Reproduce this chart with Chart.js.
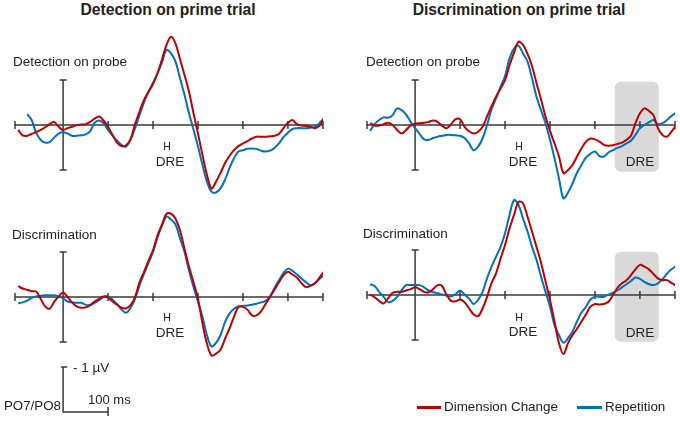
<!DOCTYPE html>
<html>
<head>
<meta charset="utf-8">
<script src="https://cdn.jsdelivr.net/npm/chart.js@4.4.1/dist/chart.umd.min.js"></script>
<style>
  body { margin: 0; background: #fff; }
  #wrap { position: relative; width: 680px; height: 421px; overflow: hidden; background: #fff;
          font-family: Arial, "Liberation Sans", sans-serif; color: #222; }
  #wrap canvas { position: absolute; }
  .t { position: absolute; white-space: nowrap; line-height: 1; }
  .c { transform: translate(-50%, -50%); }
  .l { transform: translateY(-50%); }
  .h { font-size: 10.5px; }
  .key { position: absolute; height: 3px; }
</style>
</head>
<body>
<div id="wrap">
  <canvas id="tl" width="314" height="185" style="left:12px;top:20px"></canvas>
  <canvas id="tr" width="314" height="185" style="left:364px;top:20px"></canvas>
  <canvas id="bl" width="314" height="230" style="left:12px;top:190px"></canvas>
  <canvas id="br" width="314" height="190" style="left:364px;top:190px"></canvas>

  <div class="t c" style="left:168px;top:10px;font-weight:bold;font-size:15.7px">Detection on prime trial</div>
  <div class="t c" style="left:519px;top:10px;font-weight:bold;font-size:15.7px">Discrimination on prime trial</div>

  <div class="t l" style="left:13px;top:62px;font-size:13.5px">Detection on probe</div>
  <div class="t l" style="left:366px;top:62px;font-size:13.5px">Detection on probe</div>
  <div class="t l" style="left:12px;top:235px;font-size:13.5px">Discrimination</div>
  <div class="t l" style="left:363px;top:234px;font-size:13.5px">Discrimination</div>

  <div class="t c h" style="left:167px;top:146px">H</div>
  <div class="t c" style="left:170px;top:162px;font-size:13.5px">DRE</div>
  <div class="t c h" style="left:519px;top:146px">H</div>
  <div class="t c" style="left:523px;top:162px;font-size:13.5px">DRE</div>
  <div class="t c" style="left:640px;top:162px;font-size:13.5px">DRE</div>
  <div class="t c h" style="left:167px;top:317px">H</div>
  <div class="t c" style="left:170px;top:333px;font-size:13.5px">DRE</div>
  <div class="t c h" style="left:519px;top:317px">H</div>
  <div class="t c" style="left:523px;top:332px;font-size:13.5px">DRE</div>
  <div class="t c" style="left:640px;top:333px;font-size:13.5px">DRE</div>

  <div class="t l" style="left:73px;top:368px;font-size:13.5px">- 1 µV</div>
  <div class="t l" style="left:88px;top:399px;font-size:13px">100 ms</div>
  <div class="t l" style="left:4px;top:406px;font-size:13.3px">PO7/PO8</div>

  <div class="key" style="left:417px;top:406px;width:24px;background:#c00000"></div>
  <div class="t l" style="left:444px;top:407px;font-size:13.4px">Dimension Change</div>
  <div class="key" style="left:577px;top:406px;width:25px;background:#0070c0"></div>
  <div class="t l" style="left:605px;top:407px;font-size:13.4px">Repetition</div>
</div>

<script>
// tempo (ms) relativo ao inicio do probe
const times = [-100,-90,-80,-70,-60,-50,-40,-30,-20,-10,
  0,10,20,30,40,50,60,70,80,90,
  100,110,120,130,140,150,160,170,180,190,
  200,210,220,230,240,250,260,270,280,290,
  300,310,320,330,340,350,360,370,380,390,
  400,410,420,430,440,450,460,470,480,490,
  500,510,520,530,540,550,560,570,580]

// amplitudes em µV (negativo para cima)
// Detection on prime trial / Detection on probe
const tlRed = [0.11,0.23,0.24,0.20,0.16,0.11,0.05,-0.02,-0.07,0.04,
  0.11,0.07,0.04,0,-0.01,-0.02,-0.07,-0.14,-0.19,-0.10,
  0.04,0.22,0.39,0.47,0.45,0.32,-0.02,-0.30,-0.56,-0.74,
  -0.91,-1.15,-1.46,-1.78,-1.96,-1.81,-1.46,-1.11,-0.74,-0.26,
  0.19,0.67,1.11,1.41,1.26,1.07,0.85,0.69,0.56,0.47,
  0.41,0.36,0.30,0.26,0.26,0.26,0.25,0.24,0.20,0.07,
  -0.05,-0.11,-0.02,0.01,0.02,0.04,0.07,0.02,-0.13]
const tlBlue = [null,null,-0.24,-0.11,0.17,0.33,0.39,0.38,0.28,0.19,
  0.16,0.19,0.24,0.24,0.23,0.21,0.14,-0.05,-0.10,-0.04,
  0.11,0.24,0.35,0.44,0.48,0.32,0.07,-0.22,-0.50,-0.74,
  -0.94,-1.15,-1.39,-1.67,-1.59,-1.41,-1.04,-0.67,-0.26,0.10,
  0.48,0.89,1.26,1.48,1.50,1.41,1.22,0.96,0.74,0.59,
  0.56,0.53,0.52,0.53,0.57,0.59,0.57,0.51,0.41,0.27,
  0.17,0.09,0.07,0.07,0.07,0.06,0.04,-0.04,-0.15]

// Discrimination on prime trial / Detection on probe
const trRed = [-0.04,0.01,0.01,-0.02,-0.05,0,0.11,0.19,0.11,0.01,
  -0.03,-0.04,-0.05,-0.07,-0.10,-0.07,0.02,0.07,-0.02,-0.13,
  -0.13,0.04,0.14,0.19,0.15,0.04,-0.19,-0.42,-0.63,-0.81,
  -1.00,-1.33,-1.61,-1.85,-1.78,-1.58,-1.31,-0.93,-0.57,-0.19,
  0.13,0.41,0.70,1.07,1.00,0.89,0.70,0.52,0.37,0.30,
  0.32,0.37,0.44,0.46,0.45,0.42,0.39,0.33,0.24,-0.04,
  -0.26,-0.37,-0.31,-0.22,0.07,0.22,0.26,0.15,0.02]
const trBlue = [0.13,-0.02,-0.11,-0.17,-0.16,-0.22,-0.37,-0.33,-0.23,-0.07,
  0.07,0.20,0.32,0.33,0.29,0.26,0.24,0.22,0.22,0.23,
  0.24,0.29,0.41,0.56,0.48,0.30,0,-0.35,-0.59,-0.85,
  -1.09,-1.48,-1.70,-1.76,-1.59,-1.41,-1.04,-0.63,-0.33,-0.04,
  0.33,0.74,1.19,1.63,1.50,1.30,1.06,0.89,0.72,0.64,
  0.59,0.69,0.70,0.61,0.56,0.51,0.47,0.41,0.35,0.22,
  0.07,0,-0.06,-0.11,-0.02,-0.04,-0.11,-0.20,-0.27]

// Detection on prime trial / Discrimination
const blRed = [-0.24,-0.19,-0.16,-0.13,-0.12,0.04,0.21,0.26,0.11,-0.01,
  -0.10,0,0.12,0.21,0.24,0.23,0.18,0.10,0.04,-0.01,
  0.01,0.10,0.17,0.24,0.25,0.18,0,-0.33,-0.56,-0.81,
  -1.04,-1.37,-1.61,-1.85,-1.85,-1.74,-1.48,-1.07,-0.67,-0.33,
  0.04,0.59,1.04,1.30,1.26,1.17,0.93,0.70,0.44,0.22,
  0.22,0.28,0.41,0.41,0.32,0.16,0,-0.16,-0.33,-0.48,
  -0.56,-0.50,-0.43,-0.31,-0.22,-0.25,-0.30,-0.43,-0.56]
const blBlue = [0.14,0.12,0.08,0.02,-0.01,-0.03,-0.04,-0.04,-0.04,-0.02,
  0.03,0.10,0.12,0.13,0.13,0.17,0.18,0.13,0.07,0,
  -0.02,0.06,0.16,0.28,0.35,0.24,0.04,-0.26,-0.52,-0.76,
  -1.00,-1.33,-1.59,-1.79,-1.72,-1.61,-1.30,-1.00,-0.59,-0.22,
  0.11,0.44,0.85,1.10,1.02,0.85,0.56,0.37,0.26,0.21,
  0.20,0.19,0.17,0.15,0.12,0.09,-0.01,-0.20,-0.37,-0.53,
  -0.63,-0.58,-0.50,-0.41,-0.33,-0.26,-0.31,-0.40,-0.48]

// Discrimination on prime trial / Discrimination
const brRed = [-0.01,0.05,0.13,0.19,0.07,-0.05,-0.07,-0.07,-0.10,-0.13,
  -0.17,-0.13,-0.07,-0.06,-0.13,-0.22,-0.20,0,0.13,0.14,
  0.10,0.16,0.30,0.43,0.47,0.30,0.04,-0.27,-0.48,-0.81,
  -1.11,-1.48,-1.78,-2.07,-2.04,-1.74,-1.41,-1.07,-0.72,-0.30,
  0.11,0.59,1.07,1.31,1.07,0.89,0.75,0.59,0.43,0.26,
  0.20,0.21,0.20,0.15,0,-0.16,-0.26,-0.33,-0.44,-0.57,
  -0.67,-0.63,-0.57,-0.47,-0.37,-0.33,-0.33,-0.27,-0.21]
const brBlue = [-0.24,-0.20,-0.07,0.04,0.16,0.13,0.04,-0.11,-0.22,-0.22,
  -0.22,-0.22,-0.17,-0.10,-0.06,-0.04,-0.01,0.01,0.03,-0.02,
  -0.10,-0.01,0.08,0.20,0.11,-0.07,-0.37,-0.63,-0.85,-1.07,
  -1.37,-1.78,-2.11,-2.00,-1.70,-1.41,-1.07,-0.78,-0.41,-0.07,
  0.26,0.67,0.89,1.06,0.96,0.81,0.59,0.39,0.26,0.10,
  0.04,0.04,0.04,-0.01,-0.05,-0.10,-0.17,-0.24,-0.31,-0.39,
  -0.36,-0.29,-0.24,-0.22,-0.26,-0.35,-0.47,-0.57,-0.64]

// marcas do eixo do tempo e janela DRE (ms)
const tickTimes = [100, 200, 300, 400, 500]
const dreWindow = [444, 542]

const RED = '#c00000'
const BLUE = '#0070c0'
const AXIS = '#3a3a3a'
const PX_UV = 45   // pixels por µV
const T_MIN = -107
const T_MAX = 578

// desenha eixos, janela cinza e barra de escala
const erpAxes = {
  id: 'erpAxes',
  beforeDatasetsDraw(chart, args, opts) {
    const ctx = chart.ctx
    const x = chart.scales.x
    const y = chart.scales.y
    ctx.save()

    if (opts.box) {
      const x0 = x.getPixelForValue(dreWindow[0]), x1 = x.getPixelForValue(dreWindow[1])
      const y0 = y.getPixelForValue(-0.96), y1 = y.getPixelForValue(1.04)
      const r = 6
      ctx.fillStyle = '#d9d9d9'
      ctx.beginPath()
      ctx.moveTo(x0 + r, y0)
      ctx.arcTo(x1, y0, x1, y1, r)
      ctx.arcTo(x1, y1, x0, y1, r)
      ctx.arcTo(x0, y1, x0, y0, r)
      ctx.arcTo(x0, y0, x1, y0, r)
      ctx.closePath()
      ctx.fill()
    }

    ctx.strokeStyle = AXIS
    ctx.lineWidth = 1.5
    const yb = y.getPixelForValue(0)
    ctx.beginPath()
    ctx.moveTo(x.getPixelForValue(T_MIN), yb)
    ctx.lineTo(x.getPixelForValue(T_MAX), yb)
    ;[T_MIN, ...tickTimes, T_MAX].forEach((t) => {
      const px = x.getPixelForValue(t)
      ctx.moveTo(px, yb - 4)
      ctx.lineTo(px, yb + 4)
    })
    // eixo vertical de -1 a +1 µV
    const x0 = x.getPixelForValue(0)
    const yTop = y.getPixelForValue(-1), yBot = y.getPixelForValue(1)
    ctx.moveTo(x0, yTop); ctx.lineTo(x0, yBot)
    ctx.moveTo(x0 - 3.5, yTop); ctx.lineTo(x0 + 3.5, yTop)
    ctx.moveTo(x0 - 3.5, yBot); ctx.lineTo(x0 + 3.5, yBot)
    ctx.stroke()

    if (opts.scaleBar) {
      const base = opts.scaleBar
      const sx0 = x.getPixelForValue(0), sx1 = x.getPixelForValue(100)
      const sy0 = y.getPixelForValue(base), sy1 = y.getPixelForValue(base - 1)
      ctx.lineWidth = 1.5
      ctx.beginPath()
      ctx.moveTo(sx0, sy1); ctx.lineTo(sx0, sy0); ctx.lineTo(sx1, sy0)
      ctx.moveTo(sx0 - 2, sy1); ctx.lineTo(sx0 + 4, sy1)
      ctx.moveTo(sx1, sy0 - 5); ctx.lineTo(sx1, sy0 + 4)
      ctx.stroke()
    }
    ctx.restore()
  }
}

function pts(vals) {
  return times.map((t, i) => ({ x: t, y: vals[i] })).filter((p) => p.y !== null)
}

function desenhar(id, red, blue, top, height, baseline, extra) {
  new Chart(document.getElementById(id), {
    type: 'line',
    data: {
      datasets: [
        { label: 'Dimension Change', data: pts(red), borderColor: RED, borderWidth: 2,
          pointRadius: 0, tension: 0.35, fill: false },
        { label: 'Repetition', data: pts(blue), borderColor: BLUE, borderWidth: 2,
          pointRadius: 0, tension: 0.35, fill: false }
      ]
    },
    options: {
      responsive: false,
      animation: false,
      devicePixelRatio: 1,
      layout: { padding: { left: 3, right: 3, top: 0, bottom: 0 } },
      scales: {
        x: { type: 'linear', min: T_MIN, max: T_MAX, display: false },
        y: { min: -(baseline - top) / PX_UV, max: (top + height - baseline) / PX_UV,
             reverse: true, display: false }
      },
      plugins: {
        legend: { display: false },
        tooltip: { enabled: false },
        erpAxes: extra || {}
      }
    },
    plugins: [erpAxes]
  })
}

desenhar('tl', tlRed, tlBlue, 20, 185, 125)
desenhar('tr', trRed, trBlue, 20, 185, 125, { box: true })
desenhar('bl', blRed, blBlue, 190, 230, 297, { scaleBar: 2.556 })
desenhar('br', brRed, brBlue, 190, 190, 295, { box: true })
</script>
</body>
</html>
